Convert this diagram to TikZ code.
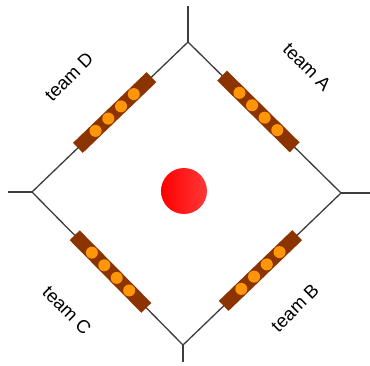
\documentclass[tikz,border=0pt]{standalone}
\usepackage{fontspec}
\setmainfont{Liberation Sans}
\usetikzlibrary{calc}

\definecolor{barbrown}{RGB}{140,52,0}
\definecolor{dotorange}{RGB}{255,150,10}
\definecolor{linegray}{RGB}{60,60,60}

\begin{document}
\begin{tikzpicture}[x=1pt,y=-1pt,line width=1.3pt,
  bar/.style={fill=barbrown,minimum width=102pt,minimum height=14pt,inner sep=0pt,sloped},
  dot/.style={circle,fill=dotorange,minimum size=12pt,inner sep=0pt},
  team/.style={font=\fontsize{18.5}{22}\selectfont,inner sep=0pt},
  ball/.style={circle,minimum size=46pt,inner sep=0pt,left color=red,right color=red!78}]
\useasboundingbox (0,0) rectangle (370,365);
\coordinate (top) at (188,42);
\coordinate (right) at (341,193);
\coordinate (bottom) at (183,345);
\coordinate (left) at (32,192);
\coordinate (topend) at (188,6);
\coordinate (rightend) at (370,193);
\coordinate (bottomend) at (183,362);
\coordinate (leftend) at (8,192);
\draw[linegray] (top) -- (right) -- (bottom) -- (left) -- cycle;
\draw[linegray] (top) -- (topend);
\draw[linegray] (right) -- (rightend);
\draw[linegray] (bottom) -- (bottomend);
\draw[linegray] (left) -- (leftend);
\path (top) -- node[bar,pos=0.46] (barA) {} (right);
\path (right) -- node[bar,pos=0.51] (barB) {} (bottom);
\path (left) -- node[bar,pos=0.52] (barC) {} (bottom);
\path (left) -- node[bar,pos=0.53] (barD) {} (top);
\foreach \b in {barA,barB,barC,barD}
  \foreach \i in {-1.5,-0.5,0.5,1.5}
    \node[dot] at ($(\b.center)!\i*17.7pt!(\b.east)$) {};
\node[ball] (ball) at (184,191) {};
\node[team,rotate=-45] (teamA) at (307,67) {team A};
\node[team,rotate=45] (teamB) at (295,308) {team B};
\node[team,rotate=-45] (teamC) at (67,310) {team C};
\node[team,rotate=45] (teamD) at (69,77) {team D};
\end{tikzpicture}
\end{document}
